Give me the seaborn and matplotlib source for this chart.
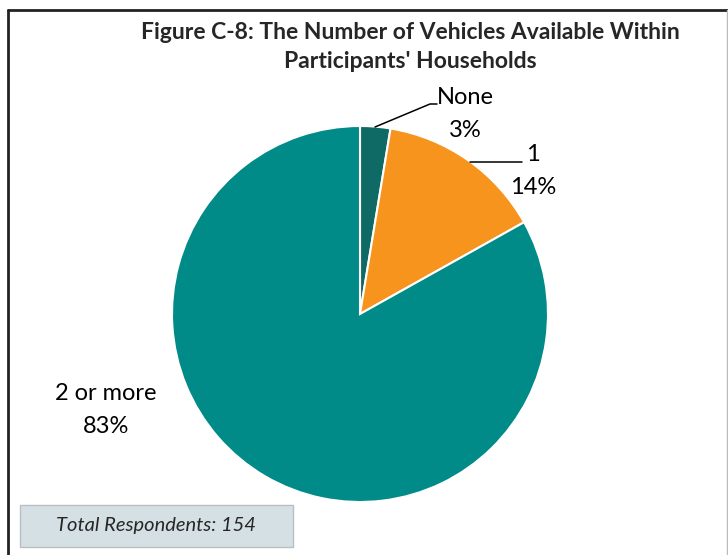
import matplotlib
matplotlib.use("Agg")
import matplotlib.pyplot as plt
import seaborn as sns
from matplotlib.lines import Line2D
from matplotlib.patches import Rectangle

# data (154 respondents)
categories = ["None", "1", "2 or more"]
counts = [4, 22, 128]
pct_labels = ["3%", "14%", "83%"]
colors = ["#0F6A66", "#F7941E", "#008B89"]

sns.set_theme(style="white")
plt.rcParams['font.family'] = ['Lato', 'DejaVu Sans']

W, H = 728, 555
fig = plt.figure(figsize=(W / 100, H / 100), dpi=100)
fig.patch.set_facecolor("white")

# pie centre / radius in pixels
cx, cy, r = 360, 314, 188
ax = fig.add_axes([(cx - r) / W, (H - cy - r) / H, 2 * r / W, 2 * r / H])
ax.pie(counts, colors=colors, startangle=90, counterclock=False,
       wedgeprops=dict(edgecolor="white", linewidth=1.5))
ax.set_xlim(-1, 1)
ax.set_ylim(-1, 1)
ax.set_aspect("equal")
ax.axis("off")


def px(x, y):
    return ((x - cx) / r, (cy - y) / r)


lbl_kw = dict(fontsize=17, color="black", ha="center", va="center",
              linespacing=1.65)

# None
ax.plot(*zip(px(375, 127), px(430, 104), px(437, 104)), color="black",
        lw=1.1, clip_on=False)
ax.text(*px(465, 114), f"{categories[0]}\n{pct_labels[0]}", **lbl_kw)
# 1
ax.plot(*zip(px(470, 162), px(522, 162)), color="black", lw=1.1,
        clip_on=False)
ax.text(*px(533, 171), f"{categories[1]}\n{pct_labels[1]}", **lbl_kw)
# 2 or more
ax.text(*px(106, 410), f"{categories[2]}\n{pct_labels[2]}", **lbl_kw)

fig.text(410 / W, 1 - 47 / H,
         "Figure C-8: The Number of Vehicles Available Within\nParticipants' Households",
         ha="center", va="center", fontsize=16.5, fontweight="bold",
         linespacing=1.5)

# respondents box
fig.add_artist(Rectangle((20 / W, 1 - 547 / H), 273 / W, 42 / H,
                         transform=fig.transFigure, facecolor="#D5E0E5",
                         edgecolor="#B8BEC2", linewidth=1))
fig.text(156 / W, 1 - 526 / H, "Total Respondents: 154", ha="center",
         va="center", fontsize=14.5, fontstyle="italic")

# outer frame
fig.add_artist(Line2D([8 / W, 727 / W], [1 - 10 / H, 1 - 10 / H],
                      transform=fig.transFigure, color="#222222", lw=2))
fig.add_artist(Line2D([8 / W, 8 / W], [0, 1 - 10 / H],
                      transform=fig.transFigure, color="#222222", lw=2))
fig.add_artist(Line2D([726.5 / W, 726.5 / W], [0, 1 - 10 / H],
                      transform=fig.transFigure, color="#BBBBBB", lw=1))

fig.savefig("out.png", dpi=100)
